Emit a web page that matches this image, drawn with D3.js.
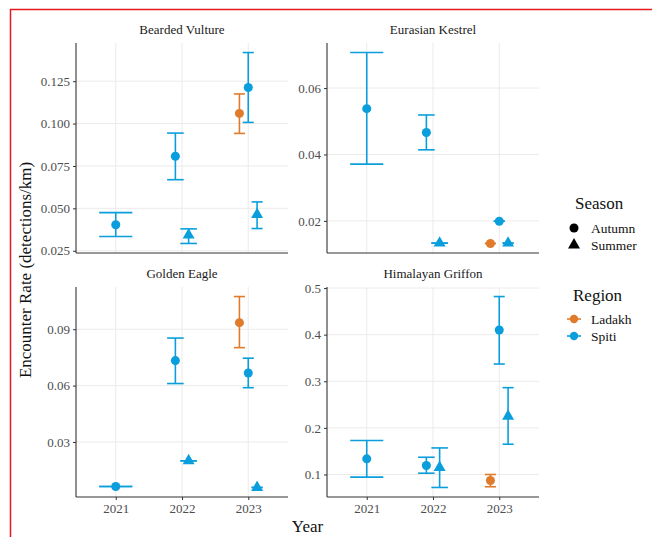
<!DOCTYPE html>
<html>
<head>
<meta charset="utf-8">
<script src="https://cdn.jsdelivr.net/npm/d3@7"></script>
<style>
  body { margin: 0; background: #fff; }
  svg text { font-family: 'Liberation Serif', 'Times New Roman', serif; }
</style>
</head>
<body>
<div id="chart"></div>
<script>
// values: [year, region, season, rate, lower, upper]
const years = ['2021', '2022', '2023']
const speciesNames = ['Bearded Vulture', 'Eurasian Kestrel', 'Golden Eagle', 'Himalayan Griffon']

const beardedVulture = [
  ['2021', 'Spiti', 'Autumn', 0.0403, 0.0334, 0.0475],
  ['2022', 'Spiti', 'Autumn', 0.0807, 0.0669, 0.0944],
  ['2022', 'Spiti', 'Summer', 0.0342, 0.0293, 0.0379],
  ['2023', 'Ladakh', 'Autumn', 0.1060, 0.0942, 0.1175],
  ['2023', 'Spiti', 'Autumn', 0.1213, 0.1007, 0.1419],
  ['2023', 'Spiti', 'Summer', 0.0464, 0.0381, 0.0538]
]
const eurasianKestrel = [
  ['2021', 'Spiti', 'Autumn', 0.0538, 0.0371, 0.0707],
  ['2022', 'Spiti', 'Autumn', 0.0466, 0.0414, 0.0519],
  ['2022', 'Spiti', 'Summer', 0.0133, 0.0133, 0.0133],
  ['2023', 'Ladakh', 'Autumn', 0.0132, 0.0132, 0.0132],
  ['2023', 'Spiti', 'Autumn', 0.0199, 0.0199, 0.0199],
  ['2023', 'Spiti', 'Summer', 0.0133, 0.0133, 0.0133]
]
const goldenEagle = [
  ['2021', 'Spiti', 'Autumn', 0.0063, 0.0063, 0.0063],
  ['2022', 'Spiti', 'Autumn', 0.0733, 0.0611, 0.0853],
  ['2022', 'Spiti', 'Summer', 0.0200, 0.0200, 0.0200],
  ['2023', 'Ladakh', 'Autumn', 0.0935, 0.0802, 0.1074],
  ['2023', 'Spiti', 'Autumn', 0.0667, 0.0589, 0.0746],
  ['2023', 'Spiti', 'Summer', 0.0058, 0.0058, 0.0058]
]
const himalayanGriffon = [
  ['2021', 'Spiti', 'Autumn', 0.1336, 0.0943, 0.1728],
  ['2022', 'Spiti', 'Autumn', 0.1193, 0.1028, 0.1370],
  ['2022', 'Spiti', 'Summer', 0.1150, 0.0722, 0.1570],
  ['2023', 'Ladakh', 'Autumn', 0.0871, 0.0737, 0.1000],
  ['2023', 'Spiti', 'Autumn', 0.4100, 0.3370, 0.4818],
  ['2023', 'Spiti', 'Summer', 0.2249, 0.1650, 0.2863]
]

const bvTicks = [0.025, 0.05, 0.075, 0.1, 0.125]
const ekTicks = [0.02, 0.04, 0.06]
const geTicks = [0.03, 0.06, 0.09]
const hgTicks = [0.1, 0.2, 0.3, 0.4, 0.5]

const regions = ['Ladakh', 'Spiti']
const seasons = ['Autumn', 'Summer']

const serif = "'Liberation Serif', 'Times New Roman', serif"
const colour = d3.scaleOrdinal().domain(regions).range(['#e07b2c', '#0a9fdc'])
const shape = d3.scaleOrdinal().domain(seasons).range([d3.symbolCircle, d3.symbolTriangle])
const shapeSize = { Autumn: 64, Summer: 62 }

const W = 652
const H = 537
const pw = 212
const ph = 210
const cols = [76, 327]
const rows = [43, 287]

const panels = [
  { name: speciesNames[0], data: beardedVulture, ticks: bvTicks, fmt: '.3f', x0: cols[0], y0: rows[0] },
  { name: speciesNames[1], data: eurasianKestrel, ticks: ekTicks, fmt: '.2f', x0: cols[1], y0: rows[0] },
  { name: speciesNames[2], data: goldenEagle, ticks: geTicks, fmt: '.2f', x0: cols[0], y0: rows[1], showX: true },
  { name: speciesNames[3], data: himalayanGriffon, ticks: hgTicks, fmt: '.1f', x0: cols[1], y0: rows[1], showX: true }
]

const svg = d3
  .select('#chart')
  .append('svg')
  .attr('width', W)
  .attr('height', H)

// red frame of the original figure
svg.append('path')
  .attr('d', 'M10.5,537 L10.5,9.5 L652,9.5')
  .attr('fill', 'none')
  .attr('stroke', '#e41a1c')
  .attr('stroke-width', 1.5)

const groupKey = d => d[1] + '|' + d[2]
const groupOrder = ['Ladakh|Autumn', 'Ladakh|Summer', 'Spiti|Autumn', 'Spiti|Summer']

panels.forEach(function(p) {
  const g = svg.append('g').attr('transform', 'translate(' + p.x0 + ',' + p.y0 + ')')

  const x = d3.scaleLinear().domain([-0.6, years.length - 1 + 0.6]).range([0, pw])
  const lo = d3.min(p.data, d => d[4])
  const hi = d3.max(p.data, d => d[5])
  const pad = (hi - lo) * 0.05
  const y = d3.scaleLinear().domain([lo - pad, hi + pad]).range([ph, 0])

  // grid
  g.selectAll('.hgrid')
    .data(p.ticks)
    .enter()
    .append('line')
    .attr('x1', 0).attr('x2', pw)
    .attr('y1', d => y(d)).attr('y2', d => y(d))
    .attr('stroke', '#ebebeb').attr('stroke-width', 1)
  g.selectAll('.vgrid')
    .data(years)
    .enter()
    .append('line')
    .attr('x1', (d, i) => x(i)).attr('x2', (d, i) => x(i))
    .attr('y1', 0).attr('y2', ph)
    .attr('stroke', '#ebebeb').attr('stroke-width', 1)

  // strip title
  g.append('text')
    .attr('x', pw / 2)
    .attr('y', -9)
    .attr('text-anchor', 'middle')
    .attr('font-family', serif)
    .style('font-size', '13px')
    .style('fill', '#1a1a1a')
    .text(p.name)

  // axes
  const yAxis = d3.axisLeft(y).tickValues(p.ticks).tickFormat(d3.format(p.fmt)).tickSize(3).tickPadding(3)
  const ya = g.append('g').attr('class', 'axis').attr('font-family', serif).call(yAxis)
  ya.select('.domain').attr('stroke', '#333').attr('stroke-width', 1.1).attr('d', 'M0,0V' + ph)
  ya.selectAll('.tick line').attr('stroke', '#333')
  ya.selectAll('.tick text').style('font-size', '13px').style('fill', '#4d4d4d')

  const xAxis = d3.axisBottom(x).tickValues(d3.range(years.length)).tickFormat(i => years[i]).tickSize(3).tickPadding(4)
  const xa = g.append('g').attr('transform', 'translate(0,' + ph + ')').call(xAxis)
  xa.attr('font-family', serif)
  xa.select('.domain').attr('stroke', '#333').attr('stroke-width', 1.1).attr('d', 'M0,0H' + pw)
  xa.selectAll('.tick line').attr('stroke', '#333')
  xa.selectAll('.tick text').style('font-size', '13px').style('fill', '#4d4d4d')
  if (!p.showX) {
    xa.selectAll('.tick').remove()
  }

  // dodge like position_dodge(width = 0.4), error bar width 0.5
  const rowsOut = []
  years.forEach(function(yr, i) {
    const here = p.data.filter(d => d[0] === yr)
      .sort((a, b) => groupOrder.indexOf(groupKey(a)) - groupOrder.indexOf(groupKey(b)))
    const n = here.length
    here.forEach(function(d, k) {
      const off = n === 1 ? 0 : 0.4 * ((k + 0.5) / n - 0.5)
      rowsOut.push({ d: d, cx: i + off, half: 0.5 / n / 2 })
    })
  })

  const bars = g.selectAll('.bar')
    .data(rowsOut)
    .enter()
    .append('g')
    .attr('stroke', r => colour(r.d[1]))
    .attr('stroke-width', 1.6)

  bars.append('line')
    .attr('x1', r => x(r.cx)).attr('x2', r => x(r.cx))
    .attr('y1', r => y(r.d[4])).attr('y2', r => y(r.d[5]))
  bars.append('line')
    .attr('x1', r => x(r.cx - r.half)).attr('x2', r => x(r.cx + r.half))
    .attr('y1', r => y(r.d[4])).attr('y2', r => y(r.d[4]))
  bars.append('line')
    .attr('x1', r => x(r.cx - r.half)).attr('x2', r => x(r.cx + r.half))
    .attr('y1', r => y(r.d[5])).attr('y2', r => y(r.d[5]))

  g.selectAll('.pt')
    .data(rowsOut)
    .enter()
    .append('path')
    .attr('d', r => d3.symbol().type(shape(r.d[2])).size(shapeSize[r.d[2]])())
    .attr('transform', r => 'translate(' + x(r.cx) + ',' + y(r.d[3]) + ')')
    .attr('fill', r => colour(r.d[1]))
})

// axis titles
svg.append('text')
  .attr('x', (cols[0] + cols[1] + pw) / 2)
  .attr('y', 532)
  .attr('text-anchor', 'middle')
  .attr('font-family', serif)
  .style('font-size', '17px')
  .style('fill', '#111')
  .text('Year')

svg.append('text')
  .attr('transform', 'translate(31,' + (rows[0] + rows[1] + ph) / 2 + ') rotate(-90)')
  .attr('text-anchor', 'middle')
  .attr('font-family', serif)
  .style('font-size', '17px')
  .style('fill', '#111')
  .text('Encounter Rate (detections/km)')

// legends
const lx = 574
const season = svg.append('g').attr('font-family', serif)
season.append('text').attr('x', lx + 1).attr('y', 209).style('font-size', '17px').style('fill', '#111').text('Season')
seasons.forEach(function(s, i) {
  const cy = 228 + i * 17
  season.append('path')
    .attr('d', d3.symbol().type(shape(s)).size(shapeSize[s])())
    .attr('transform', 'translate(' + lx + ',' + cy + ')')
    .attr('fill', '#000')
  season.append('text').attr('x', lx + 17).attr('y', cy + 4.5).style('font-size', '13.5px').style('fill', '#111').text(s)
})

const region = svg.append('g').attr('font-family', serif)
region.append('text').attr('x', lx - 1).attr('y', 301).style('font-size', '17px').style('fill', '#111').text('Region')
regions.forEach(function(r, i) {
  const cy = 319 + i * 17
  region.append('line')
    .attr('x1', lx - 7).attr('x2', lx + 7)
    .attr('y1', cy).attr('y2', cy)
    .attr('stroke', colour(r)).attr('stroke-width', 1.6)
  region.append('circle').attr('cx', lx).attr('cy', cy).attr('r', 4.2).attr('fill', colour(r))
  region.append('text').attr('x', lx + 17).attr('y', cy + 4.5).style('font-size', '13.5px').style('fill', '#111').text(r)
})
</script>
</body>
</html>
